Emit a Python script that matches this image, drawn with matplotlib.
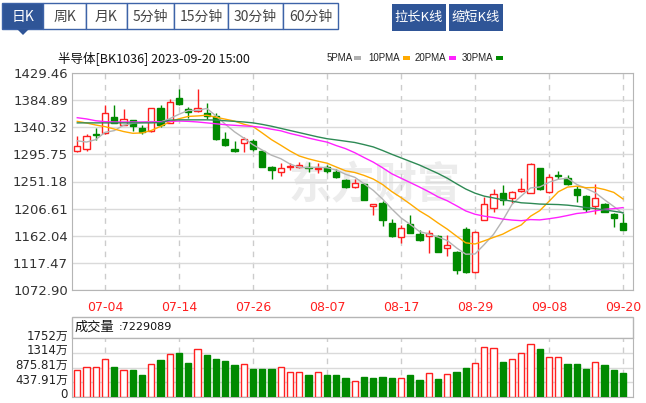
import matplotlib
matplotlib.use('Agg')
import matplotlib.pyplot as plt
from matplotlib.patches import Rectangle, Polygon
import matplotlib.transforms as mtransforms
import numpy as np

# 半导体 [BK1036] daily K line, 2023-06-29 .. 2023-09-20
dates = ['06-29', '06-30', '07-03', '07-04', '07-05', '07-06', '07-07', '07-10', '07-11', '07-12',
         '07-13', '07-14', '07-17', '07-18', '07-19', '07-20', '07-21', '07-24', '07-25', '07-26',
         '07-27', '07-28', '07-31', '08-01', '08-02', '08-03', '08-04', '08-07', '08-08', '08-09',
         '08-10', '08-11', '08-14', '08-15', '08-16', '08-17', '08-18', '08-21', '08-22', '08-23',
         '08-24', '08-25', '08-28', '08-29', '08-30', '08-31', '09-01', '09-04', '09-05', '09-06',
         '09-07', '09-08', '09-11', '09-12', '09-13', '09-14', '09-15', '09-18', '09-19', '09-20']

opens = [1301.3, 1304.6, 1329.0, 1330.4, 1357.7, 1344.0, 1352.2, 1338.3, 1334.6, 1371.5,
         1347.3, 1388.4, 1370.3, 1367.0, 1363.7, 1359.6, 1320.2, 1305.4, 1314.9, 1318.5,
         1301.3, 1274.2, 1266.8, 1274.2, 1274.2, 1274.2, 1272.5, 1275.0, 1267.3, 1253.6,
         1242.1, 1246.6, 1211.7, 1215.4, 1183.5, 1160.0, 1180.8, 1164.1, 1161.6, 1161.6,
         1141.4, 1135.8, 1172.6, 1102.5, 1187.9, 1207.1, 1231.5, 1223.6, 1234.8, 1233.1,
         1272.9, 1233.9, 1261.9, 1256.4, 1238.4, 1227.4, 1210.9, 1214.2, 1197.3, 1183.5]
highs = [1325.9, 1329.2, 1339.0, 1376.9, 1376.9, 1369.8, 1353.0, 1344.0, 1372.0, 1377.7,
         1386.0, 1403.2, 1374.4, 1402.7, 1380.2, 1363.7, 1333.3, 1318.2, 1323.8, 1320.2,
         1302.9, 1276.6, 1280.8, 1281.6, 1283.7, 1283.2, 1281.6, 1278.3, 1271.7, 1256.1,
         1254.5, 1248.7, 1215.0, 1219.1, 1189.1, 1179.7, 1196.1, 1171.5, 1171.5, 1163.3,
         1163.3, 1137.8, 1175.6, 1169.8, 1225.7, 1238.4, 1245.4, 1235.6, 1256.4, 1281.6,
         1273.4, 1264.3, 1268.9, 1261.9, 1243.8, 1229.0, 1247.1, 1216.4, 1198.6, 1198.9]
lows = [1300.0, 1301.3, 1320.0, 1329.0, 1346.8, 1343.5, 1334.6, 1329.0, 1332.0, 1340.7,
        1346.5, 1377.7, 1355.5, 1366.0, 1353.9, 1319.4, 1310.3, 1300.1, 1300.1, 1301.3,
        1275.0, 1255.3, 1260.2, 1269.3, 1273.4, 1266.0, 1265.2, 1265.2, 1256.9, 1240.5,
        1241.3, 1220.0, 1196.1, 1178.1, 1160.0, 1150.6, 1166.6, 1153.9, 1133.2, 1135.3,
        1128.8, 1100.0, 1101.6, 1101.6, 1187.9, 1201.5, 1212.5, 1215.4, 1234.4, 1232.3,
        1237.0, 1233.1, 1254.8, 1245.4, 1217.0, 1201.5, 1197.8, 1201.0, 1175.9, 1171.5]
closes = [1310.0, 1325.9, 1327.0, 1363.2, 1347.8, 1353.9, 1342.4, 1333.0, 1371.5, 1343.2,
          1382.3, 1378.5, 1364.6, 1371.5, 1359.6, 1320.2, 1311.1, 1301.8, 1320.5, 1304.6,
          1275.8, 1269.3, 1273.4, 1276.6, 1277.5, 1272.9, 1273.4, 1268.4, 1258.1, 1242.6,
          1247.9, 1220.8, 1213.4, 1187.4, 1161.1, 1174.3, 1167.0, 1155.0, 1167.0, 1135.8,
          1146.8, 1105.7, 1103.0, 1169.0, 1213.7, 1230.1, 1220.8, 1234.4, 1238.1, 1279.4,
          1238.4, 1258.6, 1259.4, 1246.6, 1229.0, 1205.5, 1223.6, 1201.5, 1190.7, 1171.5]

ma5 = [1318.0, 1316.0, 1320.0, 1332.0, 1334.8, 1343.6, 1346.9, 1348.1, 1349.7, 1348.8,
       1354.5, 1361.7, 1368.0, 1368.0, 1371.3, 1358.9, 1345.4, 1332.8, 1322.6, 1311.6,
       1302.8, 1294.4, 1288.7, 1279.9, 1274.5, 1273.9, 1274.8, 1273.8, 1270.1, 1263.1,
       1258.1, 1247.6, 1236.6, 1222.4, 1206.1, 1191.4, 1180.6, 1169.0, 1164.9, 1159.8,
       1154.3, 1142.1, 1131.7, 1132.1, 1147.6, 1164.3, 1187.3, 1213.6, 1227.4, 1240.6,
       1242.2, 1249.8, 1254.8, 1256.5, 1246.4, 1239.8, 1232.8, 1221.2, 1210.1, 1198.5]
ma10 = [1350.0, 1347.3, 1344.0, 1341.3, 1337.4, 1333.3, 1330.4, 1331.0, 1335.0, 1341.8,
        1349.1, 1354.3, 1358.1, 1358.9, 1360.1, 1356.7, 1353.6, 1350.4, 1345.3, 1341.5,
        1330.9, 1319.9, 1310.8, 1301.3, 1293.1, 1288.4, 1284.6, 1281.3, 1275.0, 1268.8,
        1266.0, 1261.2, 1255.2, 1246.3, 1234.6, 1224.8, 1214.1, 1202.8, 1193.7, 1183.0,
        1172.9, 1161.4, 1150.4, 1148.5, 1153.7, 1159.3, 1164.7, 1172.7, 1179.8, 1194.1,
        1203.3, 1218.6, 1234.2, 1242.0, 1243.5, 1241.0, 1241.3, 1238.0, 1233.3, 1222.5]
ma20 = [1356.0, 1354.0, 1351.0, 1349.5, 1349.0, 1349.0, 1349.0, 1349.0, 1349.0, 1349.5,
        1350.0, 1350.5, 1350.0, 1349.0, 1347.5, 1346.0, 1344.5, 1343.5, 1342.5, 1341.7,
        1340.0, 1337.1, 1334.5, 1330.1, 1326.6, 1322.6, 1319.1, 1315.9, 1310.2, 1305.2,
        1298.5, 1290.6, 1283.0, 1273.8, 1263.9, 1256.6, 1249.4, 1242.1, 1234.4, 1225.9,
        1219.5, 1211.3, 1202.8, 1197.4, 1194.2, 1192.1, 1189.4, 1187.8, 1186.8, 1188.6,
        1188.1, 1190.0, 1192.3, 1195.3, 1198.6, 1200.2, 1203.0, 1205.4, 1206.6, 1208.3]
ma30 = [1347.5, 1347.5, 1347.5, 1347.5, 1347.5, 1347.5, 1347.5, 1347.5, 1347.5, 1348.0,
        1352.0, 1352.5, 1352.5, 1352.5, 1352.5, 1352.0, 1351.0, 1350.0, 1349.0, 1347.5,
        1345.0, 1342.0, 1338.5, 1335.0, 1331.5, 1328.0, 1324.5, 1321.5, 1319.5, 1317.4,
        1315.3, 1311.8, 1308.0, 1302.2, 1295.9, 1290.0, 1284.1, 1278.2, 1271.3, 1264.4,
        1256.6, 1247.5, 1238.8, 1232.0, 1227.1, 1224.2, 1221.1, 1218.9, 1216.2, 1215.3,
        1214.1, 1213.7, 1213.3, 1212.3, 1210.6, 1208.4, 1206.7, 1204.5, 1202.3, 1199.9]

# 成交量 (万)
volume = [802, 901, 901, 1119, 901, 802, 792, 643, 970, 1099,
          1277, 1316, 1020, 1416, 1247, 1128, 1059, 950, 980, 832,
          832, 832, 901, 752, 752, 643, 752, 643, 643, 574,
          485, 604, 574, 604, 574, 564, 643, 495, 723, 535,
          673, 752, 871, 1020, 1495, 1445, 1049, 1128, 1316, 1564,
          1425, 1198, 1198, 980, 980, 832, 1049, 940, 802, 723]
vol_up = [1, 1, 1, 1, 0, 1, 0, 0, 1, 0,
          1, 0, 0, 1, 0, 0, 0, 0, 1, 0,
          0, 0, 1, 1, 1, 0, 1, 0, 0, 0,
          1, 0, 0, 0, 0, 1, 0, 0, 1, 0,
          1, 0, 0, 1, 1, 1, 0, 1, 1, 1,
          0, 1, 1, 0, 0, 0, 1, 0, 0, 0]

price_ticks = [1072.90, 1117.47, 1162.04, 1206.61, 1251.18, 1295.75, 1340.32, 1384.89, 1429.46]
vol_ticks = [0, 437.91, 875.81, 1314, 1752]
vol_labels = ['0', '437.91万', '875.81万', '1314万', '1752万']
date_ticks = [3, 11, 19, 27, 35, 43, 51, 59]
tabs = ['日K', '周K', '月K', '5分钟', '15分钟', '30分钟', '60分钟']
tab_edges = [2, 43, 86, 127, 174, 228, 283, 338]

RED = '#ff2020'
GREEN = '#008a00'
BLUE = '#2f5597'
GRID = '#dadada'
CJK = ['Noto Sans CJK SC', 'DejaVu Sans']
NUM = ['DejaVu Sans', 'Noto Sans CJK SC']

W, H = 646, 403
fig = plt.figure(figsize=(W / 100, H / 100), dpi=100)

# background layer in pixel coordinates
bg = fig.add_axes([0, 0, 1, 1])
bg.set_xlim(0, W)
bg.set_ylim(H, 0)
bg.axis('off')

# tab bar
for k, name in enumerate(tabs):
    x0, x1 = tab_edges[k], tab_edges[k + 1]
    sel = k == 0
    bg.add_patch(Rectangle((x0, 3), x1 - x0, 26, facecolor=BLUE if sel else 'white',
                           edgecolor='#3d63a8', lw=1))
    bg.text((x0 + x1) / 2, 16.5, name, ha='center', va='center', fontsize=10,
            family=CJK, color='white' if sel else '#444444')
bg.add_patch(Polygon([(17, 29), (29, 29), (23, 35)], closed=True, facecolor=BLUE, edgecolor='none'))

for x0, x1, name in [(392, 446, '拉长K线'), (449, 503, '缩短K线')]:
    bg.add_patch(Rectangle((x0, 4), x1 - x0, 27, facecolor=BLUE, edgecolor='none'))
    bg.text((x0 + x1) / 2, 17.5, name, ha='center', va='center', fontsize=9.5,
            family=CJK, color='white')

# title and legend
bg.text(58, 58, '半导体[BK1036] 2023-09-20 15:00', ha='left', va='center', fontsize=9,
        family=CJK, color='#111111')
legend = [('5PMA', 327, '#b0b0b0'), ('10PMA', 368, '#ffaa00'),
          ('20PMA', 415, '#ff22ff'), ('30PMA', 462, '#008a00')]
for name, lx, col in legend:
    t = bg.text(lx, 58, name, ha='left', va='center', fontsize=7, family='Liberation Sans',
                color='#222222')
for name, lx, col in legend:
    sx = {'5PMA': 354, '10PMA': 403, '20PMA': 449, '30PMA': 496}[name]
    bg.add_patch(Rectangle((sx, 56), 7, 4, facecolor=col, edgecolor='none'))

# volume header box
bg.add_patch(Rectangle((72, 317), 561, 21, facecolor='white', edgecolor='#b5b5b5', lw=1))
bg.text(75, 327.5, '成交量', ha='left', va='center', fontsize=9.5, family=CJK, color='#111111')
bg.text(119, 327.5, ':7229089', ha='left', va='center', fontsize=8, family=NUM, color='#111111')

x = np.arange(len(dates))
xlim = (-0.57, 60.08)

# ---- price panel ----
ax = fig.add_axes([72 / W, 1 - 290 / H, 561 / W, 217 / H])
ax.set_xlim(*xlim)
ax.set_ylim(price_ticks[0], price_ticks[-1])
for s in ax.spines.values():
    s.set_color('#b5b5b5')
ax.set_yticks(price_ticks)
ax.set_yticklabels(['%.2f' % v for v in price_ticks], fontsize=9.5, family=NUM, color='#333333')
ax.set_xticks(date_ticks)
ax.set_xticklabels([dates[i] for i in date_ticks], fontsize=9, family=NUM, color=RED)
ax.tick_params(length=0, pad=3)
ax.tick_params(axis='x', pad=8)
ax.grid(axis='y', color=GRID, lw=1)
for i in date_ticks:
    ax.axvline(i, color='#cccccc', lw=1, ls=(0, (4, 4)), zorder=0.8)

ax.text(0.54, 0.48, '东方财富', transform=ax.transAxes, ha='center', va='center',
        fontsize=31, family=CJK, fontweight='bold', color='#ececec', zorder=0.6)

o = np.array(opens)
c = np.array(closes)
up = c >= o
cols = np.where(up, RED, GREEN)
ax.vlines(x, lows, highs, colors=cols, lw=1, zorder=3)
body_lo = np.minimum(o, c)
body_h = np.maximum(np.abs(c - o), 0.6)
ax.bar(x, body_h, bottom=body_lo, width=0.66,
       color=np.where(up, 'white', GREEN), edgecolor=cols, lw=1, zorder=4)

ax.plot(x, ma5, color='#b4b4b4', lw=1, zorder=5)
ax.plot(x, ma10, color='#ffaa00', lw=1, zorder=5)
ax.plot(x, ma20, color='#ff22ff', lw=1, zorder=5)
ax.plot(x, ma30, color='#2e8a55', lw=1, zorder=5)

# ---- volume panel ----
vax = fig.add_axes([72 / W, 1 - 397 / H, 561 / W, 59 / H])
vax.set_xlim(*xlim)
vax.set_ylim(0, 1752)
for s in vax.spines.values():
    s.set_color('#b5b5b5')
vax.set_xticks([])
vax.set_yticks(vol_ticks)
vax.set_yticklabels(vol_labels, fontsize=8.5, family=NUM, color='#222222')
vax.tick_params(length=0, pad=3)
offset = mtransforms.ScaledTranslation(0, 3.5 / 100, fig.dpi_scale_trans)
for lab in vax.get_yticklabels():
    lab.set_transform(lab.get_transform() + offset)
vax.grid(axis='y', color=GRID, lw=1)
for i in date_ticks:
    vax.axvline(i, color='#cccccc', lw=1, ls=(0, (4, 4)), zorder=0.8)
vup = np.array(vol_up) == 1
vax.bar(x, volume, width=0.66, color=np.where(vup, 'white', GREEN),
        edgecolor=np.where(vup, RED, GREEN), lw=1, zorder=3)

fig.savefig('out.png', dpi=100)
